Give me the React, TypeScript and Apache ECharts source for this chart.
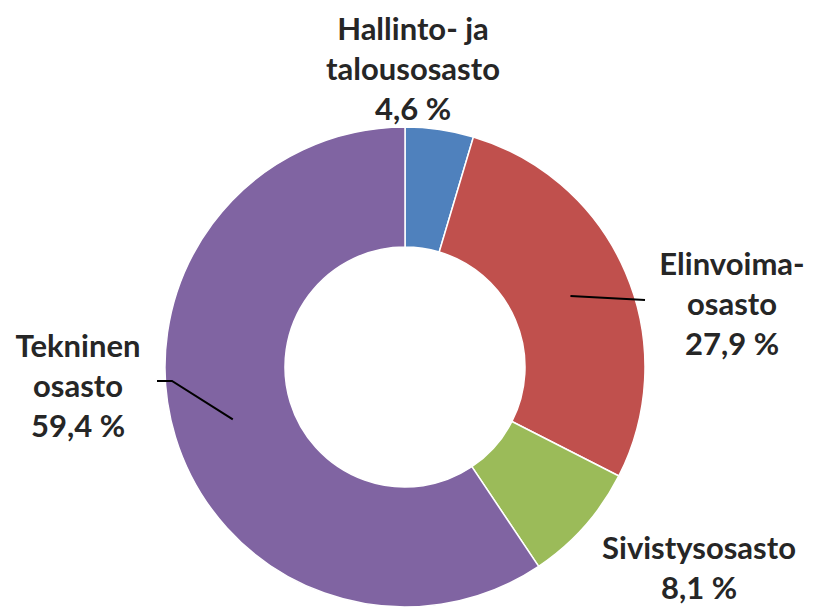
import React, { useEffect, useRef } from "react";
import * as echarts from "echarts";

const categories = ["Hallinto- ja\ntalousosasto", "Elinvoima-\nosasto", "Sivistysosasto", "Tekninen\nosasto"];
const values = [4.6, 27.9, 8.1, 59.4];
const colors = ["#4F81BD", "#C0504D", "#9BBB59", "#8064A2"];
const showLines = [false, true, false, true];

const CX = 405;
const CY = 367;
const R_IN = 120;
const R_OUT = 240;

// label block centres and label line end points (layout)
const labelPos: [number, number][] = [
  [413, 68],
  [732, 303],
  [699, 567],
  [78, 385],
];
const lineEnds: [number, number][][] = [
  [],
  [[645, 300], [645, 300]],
  [],
  [[172, 381], [157, 381]],
];

export default function App() {
  const ref = useRef<HTMLDivElement>(null);
  useEffect(() => {
    if (!ref.current) return;
    const chart = echarts.init(ref.current, undefined, { renderer: "svg" });
    const total = values.reduce((a, b) => a + b, 0);
    const cum: number[] = [];
    let acc = 0;
    values.forEach((v) => {
      cum.push(acc + v / 2);
      acc += v;
    });
    chart.setOption({
      animation: false,
      backgroundColor: "#ffffff",
      series: [
        {
          type: "pie",
          z: 2,
          center: [CX, CY],
          radius: [R_IN, R_OUT],
          startAngle: 90,
          clockwise: true,
          label: { show: false },
          labelLine: { show: false },
          itemStyle: { borderColor: "#ffffff", borderWidth: 1.5 },
          data: categories.map((c, i) => ({
            name: c,
            value: values[i],
            itemStyle: { color: colors[i] },
          })),
        },
        {
          type: "pie",
          z: 4,
          silent: true,
          center: [CX, CY],
          radius: [R_IN, R_OUT],
          startAngle: 90,
          clockwise: true,
          avoidLabelOverlap: false,
          itemStyle: { color: "rgba(0,0,0,0)", borderWidth: 0 },
          label: {
            show: true,
            color: "#262626",
            fontFamily: "Lato",
            fontWeight: "bold",
            fontSize: 31,
            lineHeight: 40,
            align: "center",
            formatter: (p: any) =>
              p.name + "\n" + Number(p.value).toFixed(1).replace(".", ",") + " %",
          },
          labelLine: { show: true, lineStyle: { color: "#000000", width: 2 } },
          labelLayout: (params: any) => {
            const i = params.dataIndex;
            const ang = (cum[i] / total) * Math.PI * 2;
            const rm = (R_IN + R_OUT) / 2;
            const sx = CX + rm * Math.sin(ang);
            const sy = CY - rm * Math.cos(ang);
            const res: any = {
              x: labelPos[i][0],
              y: labelPos[i][1],
              align: "center",
              verticalAlign: "middle",
            };
            if (showLines[i]) {
              res.labelLinePoints = [[sx, sy], ...lineEnds[i]];
            }
            return res;
          },
          data: categories.map((c, i) => ({
            name: c,
            value: values[i],
            labelLine: { show: showLines[i] },
          })),
        },
      ],
    });
    return () => chart.dispose();
  }, []);
  return (
    <div
      ref={ref}
      style={{ position: "fixed", left: 0, top: 0, width: 813, height: 608 }}
    />
  );
}
